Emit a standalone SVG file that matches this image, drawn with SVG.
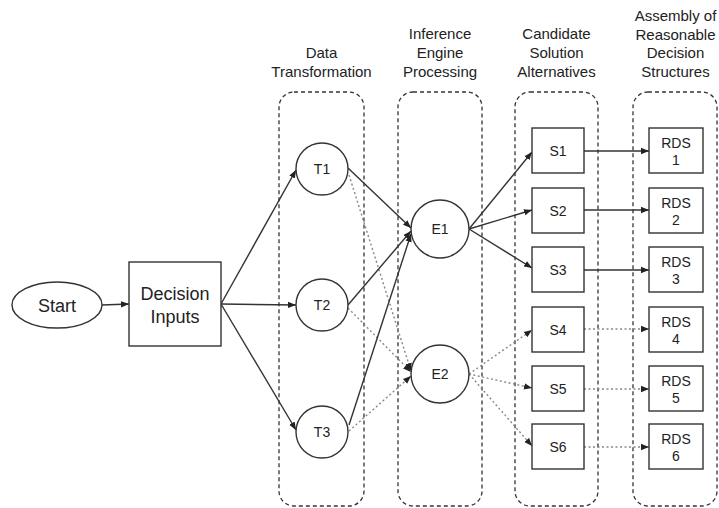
<svg xmlns="http://www.w3.org/2000/svg" width="719" height="508" viewBox="0 0 719 508">
<style>
text{font-family:"Liberation Sans",Arial,sans-serif;fill:#222;text-anchor:middle}
.hdr{font-size:15px}
.lbl{font-size:14px}
.big{font-size:18px}
.shape{fill:#fff;stroke:#333;stroke-width:1.4}
.lane{fill:none;stroke:#333;stroke-width:1.3;stroke-dasharray:4,3}
.solid{fill:none;stroke:#333;stroke-width:1.4;marker-end:url(#a)}
.dot{fill:none;stroke:#888;stroke-width:1.4;stroke-dasharray:2,2.5;marker-end:url(#a)}
</style>
<defs>
<marker id="a" markerUnits="userSpaceOnUse" markerWidth="9" markerHeight="8" refX="8" refY="4" orient="auto">
<path d="M0,0.8 L8,4 L0,7.2 Z" fill="#222"/>
</marker>
</defs>
<rect width="719" height="508" fill="#fff"/>
<g id="lanes">
<rect class="lane" x="279" y="92" width="85" height="414" rx="15"/>
<rect class="lane" x="398" y="92" width="84" height="414" rx="15"/>
<rect class="lane" x="515" y="92" width="83" height="414" rx="15"/>
<rect class="lane" x="633" y="92" width="84" height="414" rx="15"/>
</g>
<g id="headers" class="hdr">
<text class="hdr" x="321.5" y="58">Data</text>
<text class="hdr" x="321.5" y="77">Transformation</text>
<text class="hdr" x="440" y="39">Inference</text>
<text class="hdr" x="440" y="58">Engine</text>
<text class="hdr" x="440" y="77">Processing</text>
<text class="hdr" x="556.5" y="39">Candidate</text>
<text class="hdr" x="556.5" y="58">Solution</text>
<text class="hdr" x="556.5" y="77">Alternatives</text>
<text class="hdr" x="675.5" y="21">Assembly of</text>
<text class="hdr" x="675.5" y="39.5">Reasonable</text>
<text class="hdr" x="675.5" y="58">Decision</text>
<text class="hdr" x="675.5" y="77">Structures</text>
</g>
<g id="connectors">
<path class="solid" d="M102,305 L129,304"/>
<path class="solid" d="M221,304 L296,170"/>
<path class="solid" d="M221,304 L296,305"/>
<path class="solid" d="M221,304 L296,430"/>
<path class="solid" d="M348,168 L411,228"/>
<path class="dot" d="M349,175 L411,371"/>
<path class="solid" d="M348,305 L411,231"/>
<path class="dot" d="M348,308 L411,372"/>
<path class="solid" d="M349,425 L411,234"/>
<path class="dot" d="M349,431 L411,376"/>
<path class="solid" d="M469,229 L532,152"/>
<path class="solid" d="M469,229 L532,210"/>
<path class="solid" d="M469,229 L532,268"/>
<path class="dot" d="M469,374 L532,330"/>
<path class="dot" d="M469,374 L532,388"/>
<path class="dot" d="M469,374 L532,446"/>
<path class="solid" d="M584,151 L649,151"/>
<path class="solid" d="M584,210 L649,210"/>
<path class="solid" d="M584,270 L649,270"/>
<path class="dot" d="M584,329 L649,329"/>
<path class="dot" d="M584,389 L649,389"/>
<path class="dot" d="M584,447 L649,447"/>
</g>
<g id="start"><ellipse class="shape" cx="57" cy="305" rx="45" ry="23"/><text class="big" x="57" y="311.5">Start</text></g>
<g id="inputs"><rect class="shape" x="129" y="262" width="92" height="84"/><text class="big" x="175" y="300">Decision</text><text class="big" x="175" y="323">Inputs</text></g>
<g id="T1"><circle class="shape" cx="322" cy="169" r="26"/><text class="lbl" x="322" y="174">T1</text></g>
<g id="T2"><circle class="shape" cx="322" cy="305" r="26"/><text class="lbl" x="322" y="310">T2</text></g>
<g id="T3"><circle class="shape" cx="322" cy="432" r="26"/><text class="lbl" x="322" y="437">T3</text></g>
<g id="E1"><circle class="shape" cx="440" cy="229" r="29"/><text class="lbl" x="440" y="234">E1</text></g>
<g id="E2"><circle class="shape" cx="440" cy="374" r="29"/><text class="lbl" x="440" y="379">E2</text></g>
<g id="S1"><rect class="shape" x="532" y="128" width="52" height="45"/><text class="lbl" x="558" y="155.5">S1</text></g>
<g id="S2"><rect class="shape" x="532" y="188" width="52" height="45"/><text class="lbl" x="558" y="215.5">S2</text></g>
<g id="S3"><rect class="shape" x="532" y="247" width="52" height="45"/><text class="lbl" x="558" y="274.5">S3</text></g>
<g id="S4"><rect class="shape" x="532" y="307" width="52" height="45"/><text class="lbl" x="558" y="334.5">S4</text></g>
<g id="S5"><rect class="shape" x="532" y="366" width="52" height="45"/><text class="lbl" x="558" y="393.5">S5</text></g>
<g id="S6"><rect class="shape" x="532" y="424" width="52" height="45"/><text class="lbl" x="558" y="451.5">S6</text></g>
<g id="RDS1"><rect class="shape" x="649" y="128" width="54" height="45"/><text class="lbl" x="676" y="148">RDS</text><text class="lbl" x="676" y="165">1</text></g>
<g id="RDS2"><rect class="shape" x="649" y="188" width="54" height="45"/><text class="lbl" x="676" y="208">RDS</text><text class="lbl" x="676" y="225">2</text></g>
<g id="RDS3"><rect class="shape" x="649" y="247" width="54" height="45"/><text class="lbl" x="676" y="267">RDS</text><text class="lbl" x="676" y="284">3</text></g>
<g id="RDS4"><rect class="shape" x="649" y="307" width="54" height="45"/><text class="lbl" x="676" y="327">RDS</text><text class="lbl" x="676" y="344">4</text></g>
<g id="RDS5"><rect class="shape" x="649" y="366" width="54" height="45"/><text class="lbl" x="676" y="386">RDS</text><text class="lbl" x="676" y="403">5</text></g>
<g id="RDS6"><rect class="shape" x="649" y="424" width="54" height="45"/><text class="lbl" x="676" y="444">RDS</text><text class="lbl" x="676" y="461">6</text></g>
</svg>
